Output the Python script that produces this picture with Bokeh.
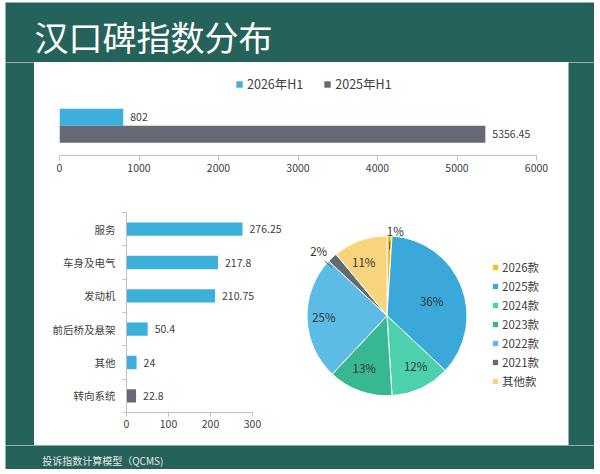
import math
from bokeh.plotting import figure
from bokeh.models import Range1d, FixedTicker, Legend, LegendItem, Label, ColumnDataSource, Spacer
from bokeh.layouts import column, row
from bokeh.embed import file_html
from bokeh.resources import INLINE
from bokeh.core.properties import value

# ---------------- data ----------------
title_text = "汉口碑指数分布"
footer_text = "投诉指数计算模型（QCMS)"

period_labels = ["2026年H1", "2025年H1"]
period_values = [802, 5356.45]
period_ticks = [0, 1000, 2000, 3000, 4000, 5000, 6000]

part_names = ["服务", "车身及电气", "发动机", "前后桥及悬架", "其他", "转向系统"]
part_values = [276.25, 217.8, 210.75, 50.4, 24, 22.8]
part_ticks = [0, 100, 200, 300]

year_names = ["2026款", "2025款", "2024款", "2023款", "2022款", "2021款", "其他款"]
year_shares = [1, 36, 12, 13, 25, 2, 11]

# ---------------- styles ----------------
GREEN = "#25625A"
BLUE = "#3DAFDB"
GREY = "#656A74"
TEXT = "#404040"
AXIS = "#BFBFBF"
FONT = "Noto Sans CJK SC"
period_colors = [BLUE, GREY]
part_colors = [BLUE, BLUE, BLUE, BLUE, BLUE, GREY]
year_colors = ["#F7C11A", "#3AA9DA", "#4DD0AE", "#38B892", "#5CBCE6", "#646A73", "#F8D47D"]
pie_label_r = [1.13, 0.6, 0.84, 0.84, 0.79, 1.13, 0.86]


def fmt(v):
    return f"{v:g}"


def blank(w, h, fill):
    p = figure(width=w, height=h, output_backend="svg", toolbar_location=None,
               x_axis_location=None, y_axis_location=None, min_border=0,
               x_range=Range1d(0, w), y_range=Range1d(0, h))
    p.background_fill_color = fill
    p.border_fill_color = fill
    p.outline_line_color = None
    p.grid.visible = False
    return p


def style_axis(ax, size="10.5px"):
    ax.axis_line_color = AXIS
    ax.major_tick_line_color = AXIS
    ax.minor_tick_line_color = None
    ax.major_tick_in = 0
    ax.major_label_text_font = FONT
    ax.major_label_text_font_size = size
    ax.major_label_text_color = TEXT


# ---------------- title band ----------------
title_fig = blank(589, 60, GREEN)
title_fig.add_layout(Label(x=29, y=26.5, x_units="screen", y_units="screen", text=title_text,
                           text_font=FONT, text_font_size="34px", text_color="white",
                           text_baseline="middle"))

# ---------------- top chart ----------------
top = figure(width=534, height=141, output_backend="svg", toolbar_location=None,
             x_range=Range1d(0, 6000), y_range=Range1d(0, 85 / 17), y_axis_location=None,
             min_border_left=25, min_border_right=32, min_border_top=8, min_border_bottom=48)
top.background_fill_color = "white"
top.border_fill_color = "white"
top.outline_line_color = None
top.grid.visible = False
tsrc = ColumnDataSource(dict(y=[2.25, 1.25], right=period_values, color=period_colors,
                             label=[fmt(v) for v in period_values]))
tr = top.hbar(y="y", left=0, right="right", height=1.0, fill_color="color", line_color=None, source=tsrc)
top.text(x="right", y="y", text="label", source=tsrc, x_offset=7, text_baseline="middle",
         text_font=value(FONT), text_font_size="10.5px", text_color=TEXT)
top.xaxis.ticker = FixedTicker(ticks=period_ticks)
style_axis(top.xaxis[0])
top.xaxis.major_tick_out = 5
top.xaxis.major_label_standoff = 3
tleg = Legend(items=[LegendItem(label=period_labels[i], renderers=[tr], index=i) for i in range(2)],
              orientation="horizontal", location=(176, 62), glyph_width=8, glyph_height=8,
              label_standoff=4, spacing=20, padding=0, margin=0, border_line_color=None,
              background_fill_alpha=0, label_text_font=FONT, label_text_font_size="12.5px",
              label_text_color=TEXT, label_height=14)
top.add_layout(tleg)

# ---------------- parts bar chart ----------------
n = len(part_names)
ys = [n - 0.5 - i for i in range(n)]
x_end = part_ticks[-1] * 162 / 126
bar = figure(width=256, height=242, output_backend="svg", toolbar_location=None,
             x_range=Range1d(0, x_end), y_range=Range1d(0, n),
             min_border_left=92, min_border_right=2, min_border_top=9, min_border_bottom=33)
bar.background_fill_color = "white"
bar.border_fill_color = "white"
bar.outline_line_color = None
bar.grid.visible = False
bsrc = ColumnDataSource(dict(y=ys, right=part_values, color=part_colors,
                             label=[fmt(v) for v in part_values]))
bar.hbar(y="y", left=0, right="right", height=0.4, fill_color="color", line_color=None, source=bsrc)
bar.text(x="right", y="y", text="label", source=bsrc, x_offset=7, text_baseline="middle",
         text_font=value(FONT), text_font_size="10.5px", text_color=TEXT)
bar.xaxis.ticker = FixedTicker(ticks=part_ticks)
bar.xaxis.bounds = (part_ticks[0], part_ticks[-1])
style_axis(bar.xaxis[0])
bar.xaxis.major_tick_out = 4
bar.xaxis.major_label_standoff = 3
overrides = {}
for yv, name in zip(ys, part_names):
    overrides[yv] = name
    overrides[str(yv)] = name
bar.yaxis.ticker = FixedTicker(ticks=ys, minor_ticks=list(range(n + 1)))
style_axis(bar.yaxis[0])
bar.yaxis.major_tick_line_color = None
bar.yaxis.major_tick_out = 0
bar.yaxis.minor_tick_line_color = AXIS
bar.yaxis.minor_tick_in = 0
bar.yaxis.minor_tick_out = 4
bar.yaxis.major_label_standoff = 7
bar.yaxis.major_label_overrides = overrides

# ---------------- pie ----------------
R = 80
pie = figure(width=278, height=242, output_backend="svg", toolbar_location=None,
             x_range=Range1d(-96.5, 181.5), y_range=Range1d(-117, 125), min_border=0,
             x_axis_location=None, y_axis_location=None)
pie.background_fill_color = "white"
pie.border_fill_color = "white"
pie.outline_line_color = None
pie.grid.visible = False
total = sum(year_shares)
cum = 0
starts, ends, mids = [], [], []
for s in year_shares:
    a0 = math.pi / 2 - 2 * math.pi * cum / total
    cum += s
    a1 = math.pi / 2 - 2 * math.pi * cum / total
    starts.append(a0)
    ends.append(a1)
    mids.append((a0 + a1) / 2)
psrc = ColumnDataSource(dict(start=starts, end=ends, color=year_colors, name=year_names))
pr = pie.wedge(x=0, y=0, radius=R, start_angle="start", end_angle="end", direction="clock",
               fill_color="color", line_color="white", line_width=1, source=psrc)

in_x, in_y, in_t = [], [], []
seg = ([], [], [], [])
outs = {"left": ([], [], []), "right": ([], [], [])}
for s, m, f in zip(year_shares, mids, pie_label_r):
    if s < 5:
        ex, ey = R * f * math.cos(m), R * f * math.sin(m)
        seg[0].append(R * math.cos(m)); seg[1].append(R * math.sin(m))
        seg[2].append(ex); seg[3].append(ey)
        side = "left" if ex >= 0 else "right"
        outs[side][0].append(ex); outs[side][1].append(ey); outs[side][2].append(f"{s}%")
    else:
        in_x.append(R * f * math.cos(m)); in_y.append(R * f * math.sin(m)); in_t.append(f"{s}%")
pie.text(x=in_x, y=in_y, text=in_t, text_align="center", text_baseline="middle",
         text_font=value(FONT), text_font_size="11.5px", text_color="#333333")
pie.segment(x0=seg[0], y0=seg[1], x1=seg[2], y1=seg[3], line_color="#595959", line_width=1)
for side, xo in (("left", -3), ("right", 2)):
    ox, oy, ot = outs[side]
    if ox:
        pie.text(x=ox, y=oy, text=ot, text_align=side, text_baseline="bottom", x_offset=xo, y_offset=-2,
                 text_font=value(FONT), text_font_size="11.5px", text_color="#333333")
pleg = Legend(items=[LegendItem(label=year_names[i], renderers=[pr], index=i) for i in range(len(year_names))],
              location=(201, 23), glyph_width=8, glyph_height=8, label_standoff=3, spacing=3,
              padding=0, margin=0, border_line_color=None, background_fill_alpha=0,
              label_text_font=FONT, label_text_font_size="11.5px", label_text_color=TEXT,
              label_height=13)
pie.add_layout(pleg)

# ---------------- frame strips / footer ----------------
left_strip = blank(29, 383, GREEN)
right_strip = blank(26, 383, GREEN)
footer = blank(589, 24, GREEN)
footer.add_layout(Label(x=36.7, y=9, x_units="screen", y_units="screen", text=footer_text,
                        text_font=FONT, text_font_size="10px", text_color="#E8E8E8",
                        text_baseline="middle"))

panel = column(title_fig,
               row(left_strip, column(top, row(bar, pie)), right_strip),
               footer)
layout = column(Spacer(width=600, height=2),
                row(Spacer(width=5, height=467), panel, Spacer(width=6, height=467)),
                Spacer(width=600, height=5))

open("out.html", "w").write(file_html(layout, INLINE))
